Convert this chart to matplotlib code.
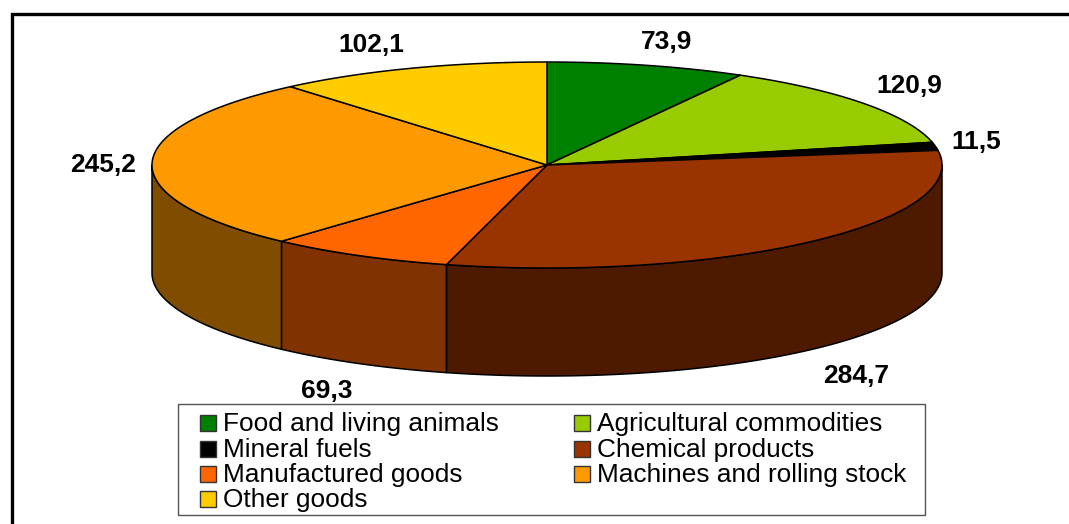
import matplotlib
matplotlib.use("Agg")
import matplotlib.pyplot as plt
from matplotlib.patches import Polygon, Rectangle
import numpy as np

plt.rcParams['font.family'] = ['Liberation Sans', 'DejaVu Sans']

categories = ["Food and living animals", "Agricultural commodities", "Mineral fuels",
              "Chemical products", "Manufactured goods", "Machines and rolling stock", "Other goods"]
values = [73.9, 120.9, 11.5, 284.7, 69.3, 245.2, 102.1]
value_labels = ["73,9", "120,9", "11,5", "284,7", "69,3", "245,2", "102,1"]
top_colors = ["#008000", "#99CC00", "#000000", "#993300", "#FF6600", "#FF9900", "#FFCC00"]
side_colors = ["#004000", "#4D6600", "#000000", "#4D1A00", "#803300", "#804D00", "#806600"]
label_pos = [(667, 42), (909, 86), (976, 142), (856, 376), (327, 391), (103, 165), (371, 45)]

# pie geometry in pixels
cx, cy = 547, 165
rx, ry = 395, 103
depth = 108

W, H = 1069, 524
fig = plt.figure(figsize=(W / 100, H / 100), dpi=100)
ax = fig.add_axes([0, 0, 1, 1])
ax.set_xlim(0, W)
ax.set_ylim(H, 0)
ax.axis('off')


def rim(t):
    return cx + rx * np.sin(t), cy - ry * np.cos(t)


edges = np.radians(np.concatenate([[0], np.cumsum(values)]) / sum(values) * 360)

# side wall, only the front half of the rim shows
for i in range(len(values)):
    a = max(edges[i], np.pi / 2)
    b = min(edges[i + 1], 3 * np.pi / 2)
    if a >= b:
        continue
    t = np.linspace(a, b, 120)
    x, y = rim(t)
    pts = np.column_stack([np.r_[x, x[::-1]], np.r_[y, y[::-1] + depth]])
    ax.add_patch(Polygon(pts, closed=True, fc=side_colors[i], ec='black', lw=1.1, joinstyle='round'))

# top face
for i in range(len(values)):
    t = np.linspace(edges[i], edges[i + 1], 200)
    x, y = rim(t)
    pts = np.column_stack([np.r_[cx, x], np.r_[cy, y]])
    ax.add_patch(Polygon(pts, closed=True, fc=top_colors[i], ec='black', lw=1.1, joinstyle='round'))

# outer frame, cut off by the image on the right and bottom
ax.plot([11.5, 11.5, W], [H, 13.5, 13.5], color='black', lw=2.4, solid_joinstyle='miter', clip_on=False)

# legend box drawn by hand, default legend spacing does not fit the tight rows
ax.add_patch(Rectangle((178, 404), 747, 111, fc='white', ec='#555555', lw=1, zorder=3))
rows = [423, 448.5, 474, 499]
cols = [200, 574]
for i, name in enumerate(categories):
    sx = cols[i % 2]
    sy = rows[i // 2]
    ax.add_patch(Rectangle((sx, sy - 8), 16, 16, fc=top_colors[i], ec='#333333', lw=1, zorder=4))
    ax.text(sx + 23, sy - 1.2, name, fontsize=18.95, ha='left', va='center_baseline', color='black', zorder=4)

for lab, (lx, ly) in zip(value_labels, label_pos):
    ax.text(lx, ly, lab, fontsize=19, fontweight='bold', ha='center', va='center', color='black', zorder=5)

fig.savefig("out.png", dpi=100)
